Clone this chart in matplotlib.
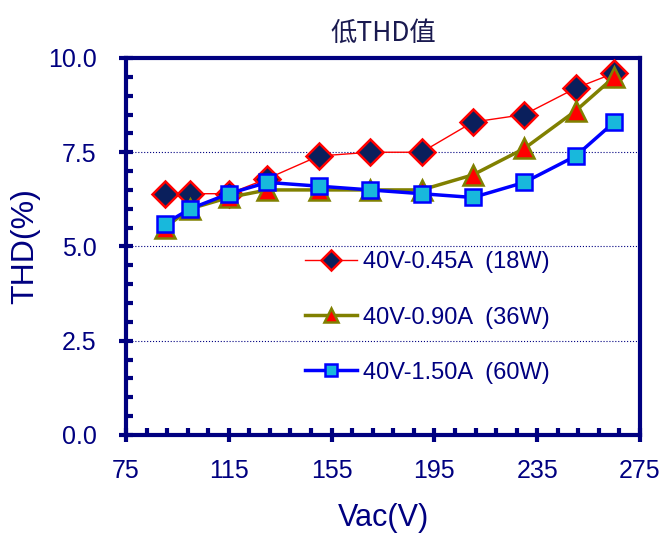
import numpy as np
import matplotlib
matplotlib.use("Agg")
import matplotlib.pyplot as plt
from matplotlib.ticker import FixedLocator, MultipleLocator, FormatStrFormatter

plt.rcParams['font.family'] = ['Liberation Sans', 'Noto Sans CJK SC', 'DejaVu Sans']

vac = [90, 100, 115, 130, 150, 170, 190, 210, 230, 250, 265]
thd_18w = [6.4, 6.4, 6.4, 6.8, 7.4, 7.5, 7.5, 8.3, 8.5, 9.2, 9.6]
thd_36w = [5.5, 6.0, 6.3, 6.5, 6.5, 6.5, 6.5, 6.9, 7.6, 8.6, 9.5]
thd_60w = [5.6, 6.0, 6.4, 6.7, 6.6, 6.5, 6.4, 6.3, 6.7, 7.4, 8.3]
labels = ["40V-0.45A  (18W)", "40V-0.90A  (36W)", "40V-1.50A  (60W)"]

navy = '#000080'

fig = plt.figure(figsize=(6.65, 5.35), dpi=100)
ax = fig.add_axes([0.1895, 0.187, 0.7729, 0.7046])

ax.plot(vac, thd_18w, color='red', lw=1, marker='D', ms=13,
        mfc='#0a1f5c', mec='red', mew=1.8, label=labels[0], zorder=3)
ax.plot(vac, thd_36w, color='#808000', lw=2.5, marker='^', ms=14,
        mfc='red', mec='#808000', mew=1.8, label=labels[1], zorder=4)
ax.plot(vac, thd_60w, color='blue', lw=2.5, marker='s', ms=11.5,
        mfc='#18b8dc', mec='blue', mew=1.8, label=labels[2], zorder=5)

ax.set_xlim(75, 275)
ax.set_ylim(0, 10)
ax.xaxis.set_major_locator(FixedLocator(np.arange(75, 276, 40)))
ax.xaxis.set_minor_locator(FixedLocator(np.arange(75, 276, 8)))
ax.yaxis.set_major_locator(MultipleLocator(2.5))
ax.yaxis.set_minor_locator(MultipleLocator(0.5))
ax.yaxis.set_major_formatter(FormatStrFormatter('%.1f'))

for s in ax.spines.values():
    s.set_color(navy)
    s.set_linewidth(3)

ax.tick_params(which='major', direction='inout', length=10, width=3,
               colors=navy, labelsize=18)
ax.tick_params(which='minor', direction='in', length=5, width=3, colors=navy)
ax.tick_params(axis='x', which='major', pad=12)
ax.tick_params(axis='y', which='major', pad=16)

ax.yaxis.grid(True, which='major', color=navy, linestyle=':', linewidth=0.8)
ax.set_axisbelow(True)

ax.set_xlabel("Vac(V)", fontsize=22, color=navy, labelpad=15)
ax.set_ylabel("THD(%)", fontsize=23, color=navy, labelpad=6)
ax.set_title("低THD值", fontsize=19, color='#1a1a50', pad=12,
             family=['Noto Sans CJK SC', 'DejaVu Sans'])

leg = ax.legend(loc='upper left', bbox_to_anchor=(0.325, 0.518), frameon=False,
                fontsize=17, labelspacing=1.4, handlelength=2.2,
                handletextpad=0.25, borderpad=0, markerscale=0.75)
for t in leg.get_texts():
    t.set_color(navy)

fig.savefig("out.png", dpi=100)
